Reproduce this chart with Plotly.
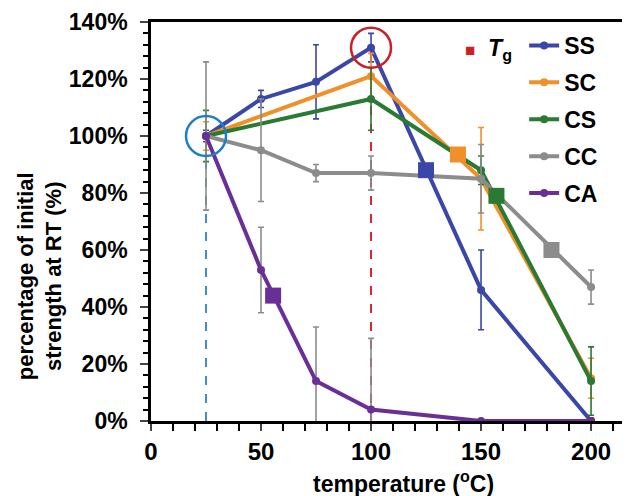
import plotly.graph_objects as go

# ---- data ----
temps_full = [25, 50, 75, 100, 150, 200]
temps_short = [25, 100, 150, 200]

ss_vals = [100, 113, 119, 131, 46, 0]
ss_err = [2, 3, 13, 5, 14, 1]

sc_vals = [100, 121, 85, 15]
sc_err = [5, 8, 18, 7]

cs_vals = [100, 113, 88, 14]
cs_err = [9, 11, 5, 12]

cc_vals = [100, 95, 87, 87, 85, 47]
cc_err = [26, 18, 3, 6, 12, 6]

ca_vals = [100, 53, 14, 4, 0, 0]
ca_err = [0, 15, 19, 25, 0, 0]

# large square markers on each curve
sq_names = ["SS", "SC", "CS", "CC", "CA"]
sq_x = [125, 139.5, 157, 182, 55.5]
sq_y = [88, 93.5, 79, 60, 44]

# highlighted points (circles) and Tg marker lines
circle_x = [25, 100]
circle_y = [100, 131]
vline_x = [25, 100]
vline_top = [100, 131]

x_ticks = [0, 50, 100, 150, 200]
y_ticks = [0, 20, 40, 60, 80, 100, 120, 140]
y_tick_labels = ["0%", "20%", "40%", "60%", "80%", "100%", "120%", "140%"]

x_title = "temperature (<sup>o</sup>C)"
y_title = "percentage of initial<br>strength at RT (%)"

colors = {
    "SS": "#3a47a8",
    "SC": "#f0902a",
    "CS": "#2a7a34",
    "CC": "#8c8c8c",
    "CA": "#6a2f96",
}
err_colors = {
    "SS": "#3a47a8",
    "SC": "#f0902a",
    "CS": "#2a7a34",
    "CC": "#8c8c8c",
    "CA": "#8c8c8c",
}

FONT = "Arial, Liberation Sans, sans-serif"

fig = go.Figure()

series = [
    ("SS", temps_full, ss_vals, ss_err),
    ("SC", temps_short, sc_vals, sc_err),
    ("CS", temps_short, cs_vals, cs_err),
    ("CC", temps_full, cc_vals, cc_err),
    ("CA", temps_full, ca_vals, ca_err),
]

for name, xs, ys, es in series:
    fig.add_trace(go.Scatter(
        x=xs, y=ys, name=name, mode="lines+markers",
        line=dict(color=colors[name], width=4),
        marker=dict(color=colors[name], size=8),
        error_y=dict(type="data", array=es, visible=True,
                     color=err_colors[name], thickness=1.6, width=3),
        legendgroup=name,
    ))

for i, name in enumerate(sq_names):
    fig.add_trace(go.Scatter(
        x=[sq_x[i]], y=[sq_y[i]], mode="markers", showlegend=False,
        marker=dict(symbol="square", size=16, color=colors[name]),
    ))

# dashed vertical lines
for xv, top, col in zip(vline_x, vline_top, ["#3b8fd6", "#d8262a"]):
    fig.add_shape(type="line", xref="x", yref="y", x0=xv, x1=xv, y0=0, y1=top,
                  line=dict(color=col, width=2, dash="dash"), layer="below")

# highlight circles
for cx, cy, col in zip(circle_x, circle_y, ["#1f7fc6", "#cc2029"]):
    fig.add_shape(type="circle", xref="x", yref="y",
                  xsizemode="pixel", ysizemode="pixel",
                  xanchor=cx, yanchor=cy, x0=-20, x1=20, y0=-20, y1=20,
                  line=dict(color=col, width=2.5))

# Tg legend item
fig.add_annotation(xref="paper", yref="paper", x=0.652, y=0.932,
                   xanchor="left", yanchor="middle", showarrow=False,
                   text="<span style='color:#cc2029;font-size:17px'>■</span>"
                        "&nbsp;&nbsp;<b><i>T</i><sub>g</sub></b>",
                   font=dict(family=FONT, size=23, color="black"))

# axis titles
fig.add_annotation(xref="paper", yref="paper", x=0.5, y=-0.153, xshift=13,
                   xanchor="center", yanchor="middle", showarrow=False,
                   text=x_title, font=dict(family=FONT, size=23, weight="bold"))
fig.add_annotation(xref="paper", yref="paper", x=0, y=0.363, xshift=-111,
                   xanchor="center", yanchor="middle", showarrow=False,
                   textangle=-90,
                   text=y_title, font=dict(family=FONT, size=22, weight="bold"))

fig.update_layout(
    template="none",
    width=630, height=496,
    margin=dict(l=143, r=8, t=14, b=83),
    paper_bgcolor="white", plot_bgcolor="white",
    font=dict(family=FONT, size=23, color="black", weight="bold"),
    showlegend=True,
    legend=dict(x=0.779, y=0.995, xanchor="left", yanchor="top",
                bgcolor="rgba(0,0,0,0)", tracegroupgap=4,
                font=dict(family=FONT, size=23, weight="bold"),
                itemwidth=30),
    xaxis=dict(range=[0, 217.7], tickvals=x_ticks, ticks="outside", ticklen=7,
               tickwidth=2, linecolor="black", linewidth=2.5, mirror=True,
               showgrid=False, zeroline=False, automargin=False,
               tickfont=dict(size=24, weight="bold"),
               minor=dict(dtick=10, ticks="outside", ticklen=7, tickwidth=2,
                          tickcolor="black", showgrid=False)),
    yaxis=dict(range=[0, 140], tickvals=y_ticks, ticktext=y_tick_labels,
               ticks="outside", ticklabelstandoff=8,
               ticklen=8, tickwidth=2, linecolor="black", linewidth=2.5,
               showgrid=False, zeroline=False, automargin=False,
               tickfont=dict(size=23, weight="bold"),
               minor=dict(dtick=4, ticks="outside", ticklen=5, tickwidth=2,
                          tickcolor="black", showgrid=False)),
)

fig.write_html("out.html")
